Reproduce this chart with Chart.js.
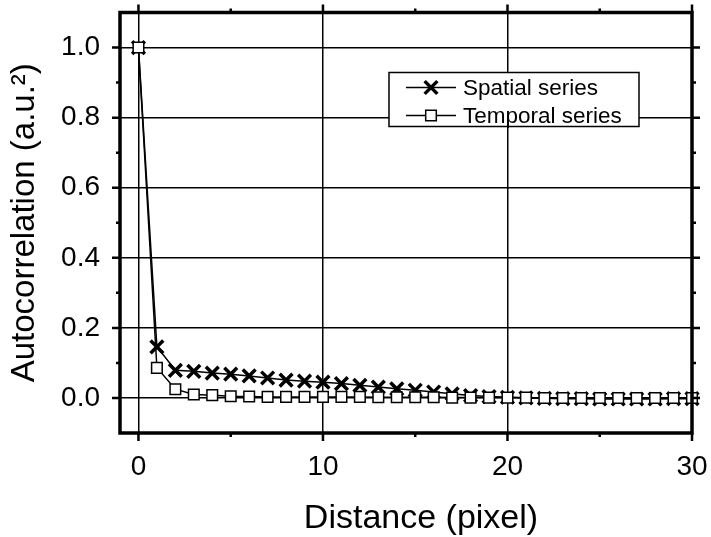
<!DOCTYPE html>
<html>
<head>
<meta charset="utf-8">
<script src="https://cdn.jsdelivr.net/npm/chart.js@4"></script>
<style>
  body { margin: 0; background: #fff; }
  canvas { display: block; }
</style>
</head>
<body>
<canvas id="myChart" width="711" height="537"></canvas>
<script>
// Khoảng cách (pixel)
const distance = [0, 1, 2, 3, 4, 5, 6, 7, 8, 9, 10, 11, 12, 13, 14, 15, 16, 17, 18, 19, 20, 21, 22, 23, 24, 25, 26, 27, 28, 29, 30];
// Chuỗi không gian
const spatial = [1.0, 0.146, 0.079, 0.076, 0.071, 0.068, 0.063, 0.057, 0.051, 0.048, 0.045, 0.041, 0.036, 0.031, 0.026, 0.022, 0.017, 0.012, 0.007, 0.004, 0.002, 0.0, -0.001, -0.002, -0.002, -0.003, -0.003, -0.003, -0.003, -0.002, -0.002];
// Chuỗi thời gian
const temporal = [1.0, 0.086, 0.025, 0.010, 0.008, 0.005, 0.004, 0.003, 0.003, 0.003, 0.003, 0.003, 0.003, 0.002, 0.002, 0.002, 0.002, 0.001, 0.001, 0.001, 0.001, 0.001, 0.0, 0.0, 0.0, 0.0, 0.0, 0.0, 0.0, 0.0, 0.0];
const xTicks = [-1, 0, 5, 10, 15, 20, 25, 30];
const xTickLabels = [0, 10, 20, 30];
const yTickLabels = [0.0, 0.2, 0.4, 0.6, 0.8, 1.0];

const FONT = "'Liberation Sans', Arial, sans-serif";

// Khung, vạch chia 4 cạnh, chú thích và tiêu đề trục X
const framePlugin = {
    id: "frame",
    afterDraw(chart) {
        const ctx = chart.ctx;
        const a = chart.chartArea;
        const xs = chart.scales.x, ys = chart.scales.y;
        ctx.save();
        ctx.strokeStyle = "#000";
        ctx.lineWidth = 2.5;
        // vạch chia
        xs.ticks.forEach(t => {
            if (t.value <= xs.min || t.value > xs.max) return;
            const major = xTickLabels.includes(t.value);
            const len = major ? 8 : 4;
            const px = xs.getPixelForValue(t.value);
            ctx.beginPath();
            ctx.moveTo(px, a.bottom); ctx.lineTo(px, a.bottom + len);
            ctx.moveTo(px, a.top); ctx.lineTo(px, a.top - len);
            ctx.stroke();
        });
        ys.ticks.forEach(t => {
            const v = Math.round(t.value * 10);
            if (v <= -1 || v >= 11) return;
            const major = v % 2 === 0;
            const len = major ? 8 : 4;
            const py = ys.getPixelForValue(t.value);
            ctx.beginPath();
            ctx.moveTo(a.left, py); ctx.lineTo(a.left - len, py);
            ctx.moveTo(a.right, py); ctx.lineTo(a.right + len, py);
            ctx.stroke();
        });
        // khung
        ctx.lineWidth = 3.5;
        ctx.strokeRect(a.left, a.top, a.right - a.left, a.bottom - a.top);

        // chú thích
        const bx = a.left + 269, by = a.top + 60, bw = 250, bh = 54;
        ctx.fillStyle = "#fff";
        ctx.fillRect(bx, by, bw, bh);
        ctx.lineWidth = 1.5;
        ctx.strokeRect(bx, by, bw, bh);
        chart.data.datasets.forEach((ds, k) => {
            const cy = by + 15 + k * 28;
            ctx.strokeStyle = "#000";
            ctx.lineWidth = 1.5;
            ctx.beginPath();
            ctx.moveTo(bx + 17, cy); ctx.lineTo(bx + 67, cy);
            ctx.stroke();
            ctx.fillStyle = ds.pointBackgroundColor;
            ctx.strokeStyle = ds.pointBorderColor;
            ctx.lineWidth = ds.pointBorderWidth;
            Chart.helpers.drawPoint(ctx, { pointStyle: ds.pointStyle, radius: ds.pointRadius, borderWidth: ds.pointBorderWidth, rotation: 0 }, bx + 42, cy);
            ctx.fillStyle = "#000";
            ctx.font = "22.5px " + FONT;
            ctx.textBaseline = "middle";
            ctx.textAlign = "left";
            ctx.fillText(ds.label, bx + 74, cy + 1);
        });

        // tiêu đề trục X
        ctx.fillStyle = "#000";
        ctx.font = "34px " + FONT;
        ctx.textAlign = "center";
        ctx.textBaseline = "alphabetic";
        ctx.fillText("Distance (pixel)", 421, 528);
        ctx.restore();
    }
};

const ctx = document.getElementById("myChart").getContext("2d");
new Chart(ctx, {
    type: "line",
    data: {
        datasets: [
            {
                label: "Spatial series",
                data: distance.map((d, i) => ({ x: d, y: spatial[i] })),
                borderColor: "#000",
                borderWidth: 1.5,
                pointStyle: "crossRot",
                pointRadius: 9,
                pointBorderWidth: 3.5,
                pointBorderColor: "#000",
                pointBackgroundColor: "#000",
                order: 1,
                clip: false
            },
            {
                label: "Temporal series",
                data: distance.map((d, i) => ({ x: d, y: temporal[i] })),
                borderColor: "#000",
                borderWidth: 1.5,
                pointStyle: "rect",
                pointRadius: 7.5,
                pointBorderWidth: 1.5,
                pointBorderColor: "#000",
                pointBackgroundColor: "#fff",
                order: 0,
                clip: false
            }
        ]
    },
    options: {
        responsive: false,
        animation: false,
        layout: { padding: { top: 7, right: 19, left: 0, bottom: 0 } },
        plugins: { legend: { display: false }, tooltip: { enabled: false } },
        scales: {
            x: {
                type: "linear",
                min: -1,
                max: 30,
                afterBuildTicks: s => { s.ticks = xTicks.map(v => ({ value: v })); },
                afterFit: s => { s.height = 104; s.paddingLeft = 0; s.paddingRight = 0; },
                ticks: {
                    autoSkip: false,
                    maxRotation: 0,
                    padding: 17,
                    color: "#000",
                    font: { family: FONT, size: 28 },
                    callback: v => xTickLabels.includes(v) ? String(v) : ""
                },
                grid: {
                    drawTicks: false,
                    lineWidth: 1.5,
                    color: c => (c.tick && xTickLabels.includes(c.tick.value) && c.tick.value < 30) ? "#000" : "rgba(0,0,0,0)"
                },
                border: { display: false }
            },
            y: {
                min: -0.1,
                max: 1.1,
                afterFit: s => { s.width = 120; s.paddingTop = 0; s.paddingBottom = 0; },
                ticks: {
                    stepSize: 0.1,
                    autoSkip: false,
                    padding: 20,
                    color: "#000",
                    font: { family: FONT, size: 28 },
                    callback: v => {
                        const r = Math.round(v * 10);
                        return (r >= 0 && r <= 10 && r % 2 === 0) ? (r / 10).toFixed(1) : "";
                    }
                },
                grid: {
                    drawTicks: false,
                    lineWidth: 1.5,
                    color: c => {
                        if (!c.tick) return "rgba(0,0,0,0)";
                        const r = Math.round(c.tick.value * 10);
                        return (r >= 0 && r <= 10 && r % 2 === 0) ? "#000" : "rgba(0,0,0,0)";
                    }
                },
                border: { display: false },
                title: {
                    display: true,
                    text: "Autocorrelation (a.u.²)",
                    color: "#000",
                    font: { family: FONT, size: 33, weight: "normal" },
                    padding: { top: 5, bottom: 0 }
                }
            }
        }
    },
    plugins: [framePlugin]
});
</script>
</body>
</html>
